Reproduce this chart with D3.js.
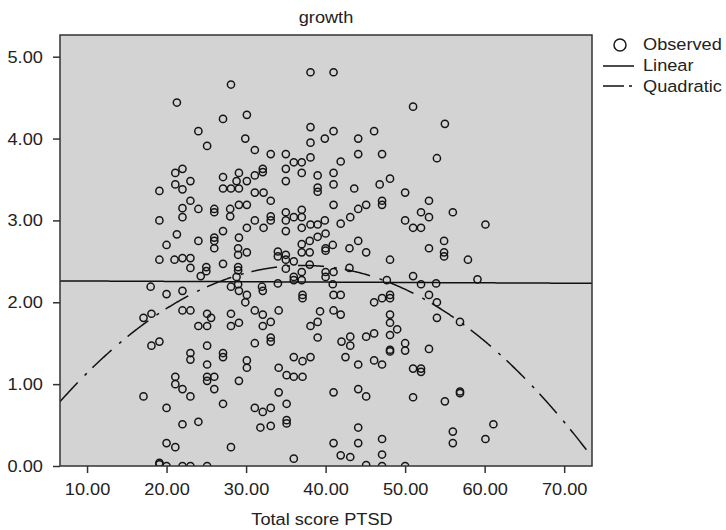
<!DOCTYPE html>
<html>
<head>
<meta charset="utf-8">
<script src="https://cdn.jsdelivr.net/npm/d3@7"></script>
<style>
  body { margin: 0; background: #fff; }
  text { font-family: "Liberation Sans", Arial, sans-serif; fill: #222; }
</style>
</head>
<body>
<script>
// observed points: [Total score PTSD, growth]
var observed = [
  [38.1,4.81],[41.0,4.81],[28.1,4.66],[21.3,4.44],[27.1,4.24],[30.1,4.29],[24.0,4.09],[25.1,3.91],[29.9,4.00],[38.1,4.14],
  [41.0,4.09],[38.1,3.95],[39.9,4.00],[44.1,4.00],[44.1,3.81],[31.1,3.86],[33.1,3.81],[35.0,3.81],[36.0,3.71],[37.0,3.71],
  [37.0,3.58],[38.1,3.77],[41.9,3.72],[35.0,3.63],[35.0,3.48],[39.0,3.55],[39.0,3.40],[39.0,3.35],[41.0,3.58],[41.0,3.44],
  [43.6,3.39],[41.0,3.19],[44.1,3.14],[43.1,3.04],[41.9,2.96],[39.9,3.00],[39.0,2.95],[37.0,3.13],[37.0,3.04],[36.0,3.04],
  [35.0,3.10],[35.0,3.00],[35.0,2.87],[37.0,2.91],[38.1,2.95],[33.1,3.05],[33.1,3.00],[32.2,2.91],[31.1,3.00],[30.1,2.91],
  [27.1,2.87],[19.1,3.00],[19.1,3.36],[21.1,3.44],[21.1,3.58],[22.0,3.63],[22.0,3.38],[23.0,3.48],[23.0,3.24],[22.0,3.15],
  [22.0,3.04],[24.0,3.14],[26.0,3.14],[26.0,3.10],[28.0,3.14],[28.0,3.05],[29.1,3.19],[30.1,3.19],[27.1,3.53],[27.1,3.39],
  [28.1,3.39],[29.1,3.39],[29.1,3.58],[28.8,3.48],[30.1,3.48],[31.1,3.55],[32.1,3.63],[32.1,3.59],[31.1,3.34],[32.2,3.34],
  [33.1,3.24],
  [51.0,4.39],[55.0,4.18],[46.1,4.09],[47.1,3.81],[54.0,3.76],[48.1,3.51],[46.8,3.44],[50.0,3.34],[45.1,3.19],[47.1,3.24],
  [47.1,3.19],[53.0,3.24],[52.0,3.10],[53.0,3.04],[56.0,3.10],[50.0,3.00],[51.0,2.91],[52.0,2.91],[60.1,2.95],
  [21.3,2.83],[20.0,2.70],[24.0,2.75],[26.0,2.79],[26.0,2.75],[26.0,2.66],[29.1,2.79],[29.0,2.66],[29.0,2.58],[30.1,2.61],
  [19.1,2.52],[21.0,2.52],[22.0,2.54],[23.0,2.54],[23.0,2.42],[25.0,2.43],[25.0,2.38],[24.3,2.32],[27.1,2.47],[29.0,2.43],
  [29.0,2.39],[28.8,2.31],[29.0,2.22],[28.1,2.19],[18.0,2.19],[32.0,2.19],[34.0,2.23],[34.0,2.62],[34.0,2.56],[35.0,2.58],
  [35.0,2.52],[35.0,2.41],[36.0,2.50],[36.0,2.31],[36.0,2.27],[37.0,2.37],[37.0,2.27],[37.0,2.71],[37.0,2.61],[38.0,2.75],
  [38.0,2.61],[38.0,2.46],[39.0,2.80],[40.0,2.84],[40.0,2.66],[40.0,2.63],[40.9,2.70],[40.0,2.37],[40.0,2.31],[41.0,2.37],
  [40.9,2.22],[43.0,2.66],[44.1,2.75],[45.1,2.61],[43.0,2.42],[48.1,2.52],[47.7,2.27],[51.0,2.32],[52.0,2.22],[53.9,2.23],
  [53.0,2.66],[54.9,2.75],[54.9,2.61],[54.9,2.56],[57.9,2.52],[59.1,2.28],
  [20.0,2.10],[22.0,2.14],[18.1,1.86],[17.1,1.81],[22.0,1.90],[23.0,1.90],[25.1,1.86],[25.6,1.81],[24.0,1.71],[25.1,1.71],
  [28.1,1.86],[28.1,1.71],[29.1,1.75],[29.1,2.14],[30.1,2.09],[29.9,2.00],[31.1,1.90],[32.1,1.85],[32.1,1.71],[33.1,1.76],
  [34.1,1.90],[32.1,2.14],[37.1,2.09],[37.1,2.05],[38.1,1.71],[39.0,1.76],[39.3,1.89],[39.0,1.57],[41.0,2.09],[41.9,2.09],
  [41.0,1.90],[41.9,1.85],[18.1,1.47],[19.1,1.52],[23.0,1.38],[23.0,1.30],[25.1,1.47],[25.1,1.24],[27.1,1.38],[27.1,1.33],
  [30.1,1.29],[30.1,1.20],[31.1,1.50],[33.1,1.57],[33.1,1.52],[34.1,1.20],[35.1,1.11],[36.0,1.09],[36.0,1.33],[37.1,1.28],
  [38.1,1.33],[37.1,1.09],[43.1,1.58],[43.1,1.47],[42.0,1.52],[42.5,1.33],[44.1,1.24],[21.1,1.09],[21.1,1.00],[22.0,0.94],
  [25.1,1.09],[25.1,1.04],[26.0,1.09],[26.0,0.94],[29.1,1.04],[17.1,0.85],[23.0,0.85],[34.1,0.90],[41.0,0.90],[44.1,0.94],
  [20.0,0.71],[27.1,0.76],[31.1,0.71],[32.1,0.66],[33.1,0.71],[35.1,0.76],[35.1,0.56],[35.1,0.52],[22.0,0.51],[24.0,0.54],
  [31.8,0.47],[33.1,0.49],[44.1,0.47],[20.0,0.28],[21.1,0.23],[28.1,0.23],[41.0,0.28],[44.1,0.28],[41.9,0.13],[43.1,0.11],
  [36.0,0.09],[19.1,0.04],[19.1,0.02],[20.0,0.00],[22.0,0.00],[23.0,0.00],[25.1,0.00],
  [53.0,2.09],[54.0,2.00],[54.0,1.81],[56.9,1.76],[46.1,2.00],[47.1,2.05],[48.1,2.09],[48.1,2.05],[48.1,1.85],[48.1,1.75],
  [48.1,1.60],[49.0,1.67],[46.1,1.62],[45.1,1.58],[48.1,1.42],[48.1,1.40],[50.0,1.50],[50.0,1.41],[53.0,1.43],[46.1,1.29],
  [47.1,1.24],[51.0,1.19],[52.0,1.19],[52.0,1.15],[45.1,0.85],[51.0,0.84],[55.0,0.79],[56.9,0.91],[56.9,0.89],[61.1,0.51],
  [56.0,0.42],[56.0,0.28],[60.1,0.33],[47.1,0.33],[47.1,0.14],[47.1,0.00],[45.1,0.01],[50.0,0.00]
];

// fitted curves, coefficients [b0, b1, b2]
var linearFit = [2.264, -0.00044];
var quadraticFit = [-0.009, 0.1322, -0.001777];

var xTicks = [10, 20, 30, 40, 50, 60, 70];
var yTicks = [0, 1, 2, 3, 4, 5];
var legendLabels = ["Observed", "Linear", "Quadratic"];

var W = 726, H = 530;
var plot = {left: 60, top: 35, right: 592, bottom: 466};
var stretch = "scale(1.07,1)";

var svg = d3.select("body").append("svg")
    .attr("width", W)
    .attr("height", H);

var x = d3.scaleLinear().domain([6.6, 73.5]).range([plot.left, plot.right]);
var y = d3.scaleLinear().domain([0, 5.265]).range([plot.bottom, plot.top]);

svg.append("defs").append("clipPath").attr("id", "plotclip")
  .append("rect")
    .attr("x", plot.left).attr("y", plot.top)
    .attr("width", plot.right - plot.left)
    .attr("height", plot.bottom - plot.top);

svg.append("rect")
    .attr("x", plot.left).attr("y", plot.top)
    .attr("width", plot.right - plot.left)
    .attr("height", plot.bottom - plot.top)
    .attr("fill", "#d3d3d3");

var inner = svg.append("g").attr("clip-path", "url(#plotclip)");

inner.selectAll("circle.obs")
    .data(observed)
  .enter().append("circle")
    .attr("class", "obs")
    .attr("cx", function(d) { return x(d[0]); })
    .attr("cy", function(d) { return y(d[1]); })
    .attr("r", 3.6)
    .attr("fill", "none")
    .attr("stroke", "#151515")
    .attr("stroke-width", 1.5);

var xs = d3.range(6.6, 73.55, 0.1);
var lineGen = d3.line()
    .x(function(d) { return x(d[0]); })
    .y(function(d) { return y(d[1]); });

inner.append("path")
    .datum(xs.map(function(v) { return [v, linearFit[0] + linearFit[1] * v]; }))
    .attr("d", lineGen)
    .attr("fill", "none")
    .attr("stroke", "#111")
    .attr("stroke-width", 1.5);

inner.append("path")
    .datum(xs.map(function(v) { return [v, quadraticFit[0] + quadraticFit[1] * v + quadraticFit[2] * v * v]; }))
    .attr("d", lineGen)
    .attr("fill", "none")
    .attr("stroke", "#111")
    .attr("stroke-width", 1.5)
    .attr("stroke-dasharray", "26,10,3,8");

svg.append("rect")
    .attr("x", plot.left).attr("y", plot.top)
    .attr("width", plot.right - plot.left)
    .attr("height", plot.bottom - plot.top)
    .attr("fill", "none")
    .attr("stroke", "#333")
    .attr("stroke-width", 1.5);

var xAxis = svg.append("g")
    .attr("transform", "translate(0," + plot.bottom + ")")
    .call(d3.axisBottom(x).tickValues(xTicks).tickFormat(d3.format(".2f")).tickSize(7).tickPadding(10));
var yAxis = svg.append("g")
    .attr("transform", "translate(" + plot.left + ",0)")
    .call(d3.axisLeft(y).tickValues(yTicks).tickFormat(d3.format(".2f")).tickSize(7).tickPadding(9));

[xAxis, yAxis].forEach(function(g) {
  g.select(".domain").remove();
  g.selectAll(".tick line").attr("stroke", "#333").attr("stroke-width", 1.5);
  g.selectAll(".tick text")
      .attr("fill", "#222")
      .style("font-size", "17px")
      .style("font-family", '"Liberation Sans", Arial, sans-serif')
      .attr("transform", stretch);
});

svg.append("text")
    .attr("transform", "translate(326,23) " + stretch)
    .attr("text-anchor", "middle")
    .style("font-size", "17px")
    .text("growth");

svg.append("text")
    .attr("transform", "translate(322,525) " + stretch)
    .attr("text-anchor", "middle")
    .style("font-size", "17px")
    .text("Total score PTSD");

// legend
var legend = svg.append("g");
legend.append("circle")
    .attr("cx", 620).attr("cy", 45).attr("r", 6)
    .attr("fill", "none").attr("stroke", "#1a1a1a").attr("stroke-width", 1.5);
legend.append("line")
    .attr("x1", 603).attr("x2", 634).attr("y1", 66).attr("y2", 66)
    .attr("stroke", "#111").attr("stroke-width", 1.5);
legend.append("line")
    .attr("x1", 603).attr("x2", 634).attr("y1", 86).attr("y2", 86)
    .attr("stroke", "#111").attr("stroke-width", 1.5)
    .attr("stroke-dasharray", "21,5,3,10");
legend.selectAll("text")
    .data(legendLabels)
  .enter().append("text")
    .attr("transform", function(d, i) { return "translate(643," + (50 + i * 21) + ") " + stretch; })
    .style("font-size", "17px")
    .text(function(d) { return d; });
</script>
</body>
</html>
